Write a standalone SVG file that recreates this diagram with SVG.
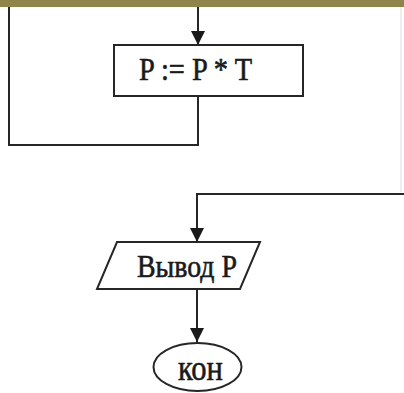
<svg xmlns="http://www.w3.org/2000/svg" width="404" height="393" viewBox="0 0 404 393">
<style>
.ln{fill:none;stroke:#262626;stroke-width:2}
.sh{fill:#fff;stroke:#262626;stroke-width:2}
.tx{font-family:"Liberation Serif","DejaVu Serif",serif;fill:#1a1a1a;stroke:#1a1a1a;stroke-width:0.6}
</style>
<defs>
<marker id="a" markerUnits="userSpaceOnUse" markerWidth="14" markerHeight="14" refX="14" refY="7" viewBox="0 0 14 14" orient="auto"><path d="M0,0 L14,7 L0,14 Z" fill="#1a1a1a"/></marker>
</defs>
<rect x="0" y="0" width="404" height="7" fill="#8f8449"/>
<line x1="401" y1="7" x2="401" y2="192" stroke="#eeeeee" stroke-width="2"/>
<g id="connectors">
<line class="ln" x1="198" y1="7" x2="198" y2="45" marker-end="url(#a)"/>
<polyline class="ln" points="198,96 198,145 9,145 9,7"/>
<polyline class="ln" points="404,194 197,194 197,242" marker-end="url(#a)"/>
<line class="ln" x1="197" y1="289" x2="197" y2="342" marker-end="url(#a)"/>
</g>
<g id="node-assign">
<rect class="sh" x="114" y="45" width="189" height="51"/>
<text class="tx" x="139" y="80" font-size="32" textLength="113" lengthAdjust="spacingAndGlyphs">P := P * T</text>
</g>
<g id="node-output">
<polygon class="sh" points="117,242 260,242 240,289 97,289"/>
<text class="tx" x="137" y="277" font-size="31" textLength="100" lengthAdjust="spacingAndGlyphs">Вывод Р</text>
</g>
<g id="node-end">
<ellipse class="sh" cx="197.5" cy="367" rx="44" ry="24"/>
<text class="tx" x="178" y="380" font-size="36" textLength="45" lengthAdjust="spacingAndGlyphs">кон</text>
</g>
</svg>
